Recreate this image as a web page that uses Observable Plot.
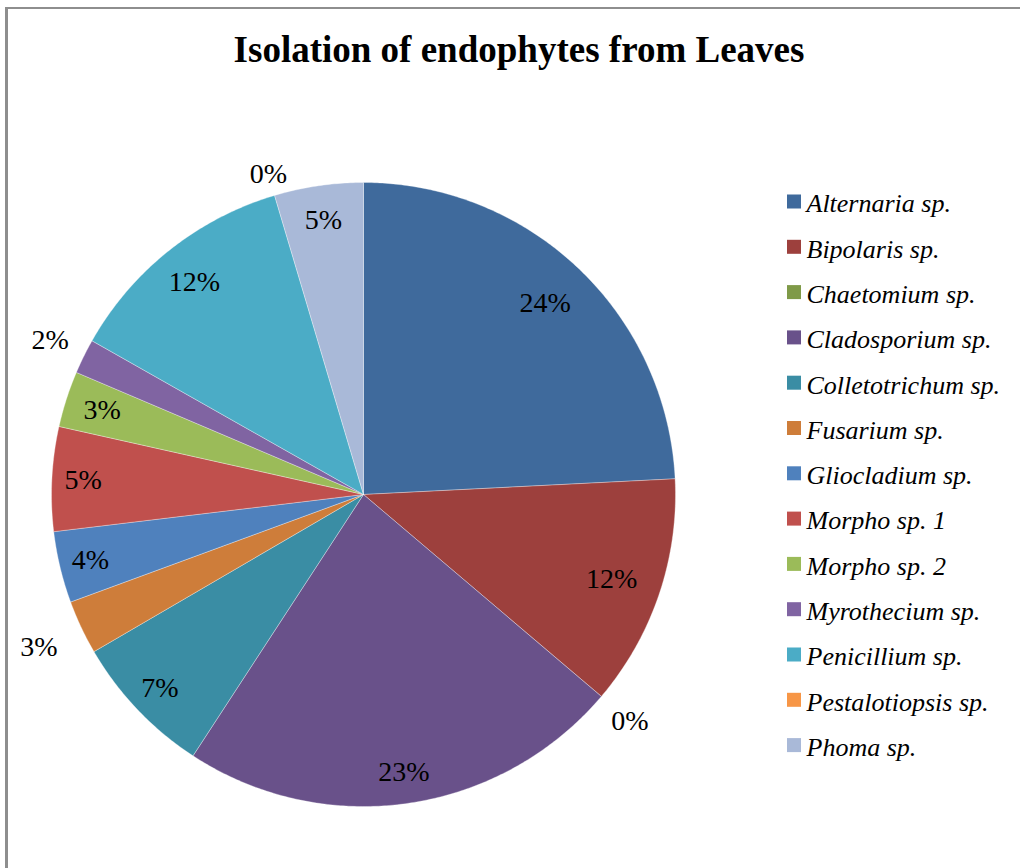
<!DOCTYPE html>
<html>
<head>
<meta charset="utf-8">
<script src="https://cdn.jsdelivr.net/npm/d3@7"></script>
<script src="https://cdn.jsdelivr.net/npm/@observablehq/plot@0.6"></script>
<style>
  body { margin: 0; background: #fff; }
  #wrap { position: relative; width: 1020px; height: 868px; overflow: hidden; background: #fff; }
  #frame { position: absolute; left: 5px; top: 7px; width: 1100px; height: 1000px;
           border-left: 3px solid #8e8e8e; border-top: 2px solid #8e8e8e; box-sizing: border-box; pointer-events: none; }
  #title { position: absolute; left: 0; top: 31px; width: 1038px; text-align: center;
           font: bold 37px "Liberation Serif", "Times New Roman", serif; line-height: 37px; color: #000; }
  #chart { position: absolute; left: 0; top: 0; }
  #chart svg, #chart svg text { font-family: "Liberation Serif", "Times New Roman", serif !important; }
  #chart svg .legend-text text { font-style: italic; }
</style>
</head>
<body>
<div id="wrap">
  <div id="chart"></div>
  <div id="frame"></div>
  <div id="title">Isolation of endophytes from Leaves</div>
</div>
<script>
// ---- data ----
const species = [
  "Alternaria sp.", "Bipolaris sp.", "Chaetomium sp.", "Cladosporium sp.",
  "Colletotrichum sp.", "Fusarium sp.", "Gliocladium sp.", "Morpho sp. 1",
  "Morpho sp. 2", "Myrothecium sp.", "Penicillium sp.", "Pestalotiopsis sp.", "Phoma sp."
];
const shares = [24.2, 12.0, 0, 23.0, 7.4, 2.8, 3.7, 5.4, 2.9, 1.8, 12.2, 0, 4.6];
const colors = [
  "#3F6A9C", "#9D403D", "#7F9A48", "#69518A", "#3A8DA4", "#CE7D3A", "#4F81BD",
  "#C0504D", "#9BBB59", "#8064A2", "#4BACC6", "#F79646", "#A9B9D8"
];

// ---- layout ----
const W = 1020, H = 868;
const cx = 363, cy = 494, R = 312;
const outsideLabels = new Set(["Chaetomium sp.", "Fusarium sp.", "Myrothecium sp.", "Pestalotiopsis sp."]);
const labelRadius = {
  "Alternaria sp.": 0.845, "Bipolaris sp.": 0.84, "Penicillium sp.": 0.87, "Morpho sp. 2": 0.88,
  "Phoma sp.": 0.89, "Fusarium sp.": 1.15, "Pestalotiopsis sp.": 1.07
};
const legendX = 787, legendY0 = 201.5, legendStep = 45.3, swatch = 14;

const total = d3.sum(shares);
const arcs = d3.pie().sort(null).value(d => d)(shares);
const pt = (a, r) => ({x: cx + r * Math.sin(a), y: cy - r * Math.cos(a)});

// slice polygons
const polys = [];
arcs.forEach((a, i) => {
  if (a.endAngle - a.startAngle <= 0) return;
  const name = species[i];
  polys.push({name, ...pt(0, 0)});
  const n = Math.max(2, Math.ceil((a.endAngle - a.startAngle) / (Math.PI / 360)));
  for (let k = 0; k <= n; k++) {
    const ang = a.startAngle + (a.endAngle - a.startAngle) * k / n;
    polys.push({name, ...pt(ang, R)});
  }
  polys.push({name, ...pt(0, 0)});
});

// percent labels
const labels = arcs.map((a, i) => {
  const name = species[i];
  const mid = (a.startAngle + a.endAngle) / 2;
  const f = labelRadius[name] ?? (outsideLabels.has(name) ? 1.12 : 0.9);
  return {name, text: Math.round(shares[i] / total * 100) + "%", ...pt(mid, R * f)};
});

const legend = species.map((name, i) => ({name, y: legendY0 + i * legendStep}));

const plot = Plot.plot({
  width: W, height: H, margin: 0,
  x: {domain: [0, W], range: [0, W], axis: null},
  y: {domain: [0, H], range: [0, H], axis: null},
  color: {domain: species, range: colors},
  style: {background: "transparent", fontFamily: "Liberation Serif"},
  marks: [
    Plot.line(polys, {x: "x", y: "y", z: "name", fill: "name", stroke: "#ffffff",
                      strokeWidth: 0.6, strokeOpacity: 0.55, curve: "linear"}),
    Plot.text(labels, {x: "x", y: "y", text: "text", fontSize: 28,
                       fontFamily: "Liberation Serif", fill: "#000"}),
    Plot.rect(legend, {x1: () => legendX, x2: () => legendX + swatch,
                       y1: d => d.y - swatch / 2, y2: d => d.y + swatch / 2, fill: "name"}),
    Plot.text(legend, {x: () => legendX + 19, y: d => d.y + 2, text: "name", textAnchor: "start",
                       fontSize: 26, fontStyle: "italic", fontFamily: "Liberation Serif", fill: "#000",
                       className: "legend-text"})
  ]
});
document.getElementById("chart").appendChild(plot);
</script>
</body>
</html>
